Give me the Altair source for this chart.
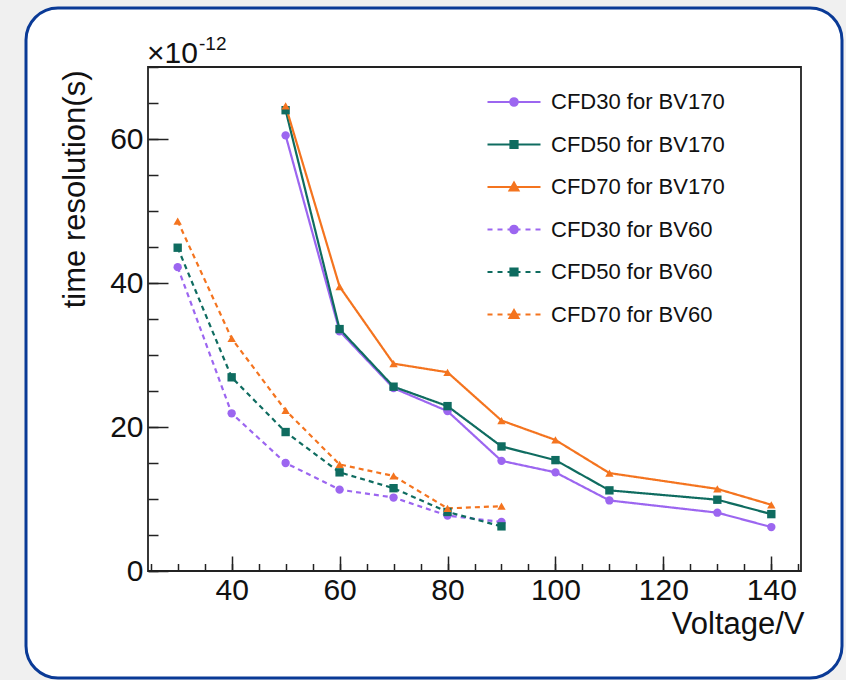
import altair as alt
import pandas as pd

# ---------------- data (time resolution in units of 1e-12 s) ----------------
voltage_bv170 = [50, 60, 70, 80, 90, 100, 110, 130, 140]
cfd30_bv170 = [60.5, 33.3, 25.4, 22.2, 15.3, 13.7, 9.8, 8.1, 6.1]
cfd50_bv170 = [64.0, 33.6, 25.6, 22.9, 17.3, 15.4, 11.2, 9.9, 7.9]
cfd70_bv170 = [64.6, 39.5, 28.8, 27.6, 20.9, 18.2, 13.6, 11.4, 9.2]

voltage_bv60 = [30, 40, 50, 60, 70, 80, 90]
cfd30_bv60 = [42.2, 21.9, 15.0, 11.3, 10.2, 7.7, 6.8]
cfd50_bv60 = [44.9, 26.9, 19.3, 13.7, 11.5, 8.2, 6.2]
cfd70_bv60 = [48.6, 32.3, 22.3, 14.8, 13.2, 8.7, 9.0]

series_names = ["CFD30 for BV170", "CFD50 for BV170", "CFD70 for BV170",
                "CFD30 for BV60", "CFD50 for BV60", "CFD70 for BV60"]
series_colors = ["#9c66f0", "#0f6c60", "#f4741f", "#9c66f0", "#0f6c60", "#f4741f"]
cfd_names = ["CFD30", "CFD50", "CFD70"]
cfd_shapes = ["circle", "square", "triangle-up"]
bv_names = ["BV170", "BV60"]
bv_dashes = [[1, 0], [5, 4]]

x_major = [40, 60, 80, 100, 120, 140]
x_minor = [25, 30, 35, 40, 45, 50, 55, 60, 65, 70, 75, 80, 85, 90, 95, 100,
           105, 110, 115, 120, 125, 130, 135, 140, 145]
y_major = [0, 20, 40, 60]
y_minor = [0, 5, 10, 15, 20, 25, 30, 35, 40, 45, 50, 55, 60, 65, 70]

rows = []
for name, cfd, bv, xs, ys in [
    (series_names[0], "CFD30", "BV170", voltage_bv170, cfd30_bv170),
    (series_names[1], "CFD50", "BV170", voltage_bv170, cfd50_bv170),
    (series_names[2], "CFD70", "BV170", voltage_bv170, cfd70_bv170),
    (series_names[3], "CFD30", "BV60", voltage_bv60, cfd30_bv60),
    (series_names[4], "CFD50", "BV60", voltage_bv60, cfd50_bv60),
    (series_names[5], "CFD70", "BV60", voltage_bv60, cfd70_bv60),
]:
    for xv, yv in zip(xs, ys):
        rows.append({"voltage": xv, "res": yv, "series": name, "cfd": cfd, "bv": bv})
df = pd.DataFrame(rows)
one = pd.DataFrame({"k": [0]})

FONT = "Liberation Sans"
W, H = 653, 504

xscale = alt.Scale(domain=[24.5, 145.5], nice=False, zero=False)
yscale = alt.Scale(domain=[0, 70], nice=False, zero=False)
color_scale = alt.Scale(domain=series_names, range=series_colors)
shape_scale = alt.Scale(domain=cfd_names, range=cfd_shapes)
dash_scale = alt.Scale(domain=bv_names, range=bv_dashes)

# legend symbols: line (solid / dashed) + marker, as custom paths (units of 10 px)
solid = "M-2.65,0L2.65,0"
dashed = "M-2.65,0L-2.15,0M-1.65,0L-1.15,0M-0.65,0L0.65,0M1.15,0L1.65,0M2.15,0L2.65,0"
circ = "M-0.38,0A0.38,0.38,0,1,1,0.38,0A0.38,0.38,0,1,1,-0.38,0Z"
sq = "M-0.36,-0.36L0.36,-0.36L0.36,0.36L-0.36,0.36Z"
tri = "M0,-0.45L0.45,0.35L-0.45,0.35Z"
legend_paths = [solid + circ, solid + sq, solid + tri, dashed + circ, dashed + sq, dashed + tri]
parts = [f"datum.value === '{n}' ? '{p}'" for n, p in zip(series_names, legend_paths)]
shape_expr = " : ".join(parts) + " : 'circle'"
color_expr = "scale('color', datum.value)"

legend = alt.Legend(
    title=None, orient="none", legendX=355, legendY=24, padding=0,
    symbolSize=400, labelFont=FONT, labelFontSize=22, labelColor="#111",
    labelOffset=26, rowPadding=20.5, labelLimit=400,
    symbolType=alt.ExprRef(expr=shape_expr),
    symbolFillColor=alt.ExprRef(expr=color_expr),
    symbolStrokeColor=alt.ExprRef(expr=color_expr),
    symbolStrokeWidth=2, symbolOpacity=1,
)

# background card + frame
card = alt.Chart(one).mark_rect(
    fill="white", stroke="#0a3a96", strokeWidth=3, cornerRadius=32
).encode(x=alt.value(-122), x2=alt.value(694), y=alt.value(-59), y2=alt.value(611))

frame = alt.Chart(one).mark_rect(
    fill="transparent", stroke="#222", strokeWidth=1.8
).encode(x=alt.value(0), x2=alt.value(W), y=alt.value(0), y2=alt.value(H))

exp_main = alt.Chart(one).mark_text(
    text="×10", font=FONT, fontSize=30, align="left", baseline="alphabetic", color="#111"
).encode(x=alt.value(-1), y=alt.value(-4))
exp_sup = alt.Chart(one).mark_text(
    text="-12", font=FONT, fontSize=19, align="left", baseline="alphabetic", color="#111"
).encode(x=alt.value(51), y=alt.value(-17))

# data layers
lines = alt.Chart(df).mark_line(strokeWidth=2.2).encode(
    x=alt.X("voltage:Q", scale=xscale, axis=alt.Axis(
        orient="bottom", values=x_major, ticks=False, domain=False, grid=False,
        labelFont=FONT, labelFontSize=30, labelColor="#111", labelPadding=4,
        labelFlush=False, title="Voltage/V", titleFont=FONT, titleFontSize=31,
        titleFontWeight="normal", titleColor="#111", titleAlign="right",
        titleBaseline="alphabetic", titleX=656, titleY=62, zindex=1)),
    y=alt.Y("res:Q", scale=yscale, axis=alt.Axis(
        orient="left", values=y_major, ticks=False, domain=False, grid=False,
        labelFont=FONT, labelFontSize=30, labelColor="#111", labelPadding=5,
        title="time resolution(s)", titleFont=FONT, titleFontSize=31,
        titleFontWeight="normal", titleColor="#111", titleAngle=270,
        titleAlign="right", titleBaseline="alphabetic", titleX=-64, titleY=3, zindex=1)),
    color=alt.Color("series:N", scale=color_scale, legend=legend),
    strokeDash=alt.StrokeDash("bv:N", scale=dash_scale, legend=None),
    detail="series:N",
)

points = alt.Chart(df).mark_point(filled=True, size=70, opacity=1).encode(
    x=alt.X("voltage:Q", scale=xscale, axis=None),
    y=alt.Y("res:Q", scale=yscale, axis=None),
    color=alt.Color("series:N", scale=color_scale, legend=legend),
    shape=alt.Shape("cfd:N", scale=shape_scale, legend=None),
)

major_ticks = alt.Chart(df).mark_point(opacity=0).encode(
    x=alt.X("voltage:Q", scale=xscale, axis=alt.Axis(
        orient="bottom", values=x_major, labels=False, domain=False, grid=False,
        tickSize=15, offset=-15, tickColor="#222", tickWidth=1.5, title=None, zindex=1)),
    y=alt.Y("res:Q", scale=yscale, axis=alt.Axis(
        orient="left", values=y_major, labels=False, domain=False, grid=False,
        tickSize=20, offset=-20, tickColor="#222", tickWidth=1.5, title=None, zindex=1)),
)

minor_ticks = alt.Chart(df).mark_point(opacity=0).encode(
    x=alt.X("voltage:Q", scale=xscale, axis=alt.Axis(
        orient="bottom", values=x_minor, labels=False, domain=False, grid=False,
        tickSize=7.5, offset=-7.5, tickColor="#222", tickWidth=1.5, title=None, zindex=1)),
    y=alt.Y("res:Q", scale=yscale, axis=alt.Axis(
        orient="left", values=y_minor, labels=False, domain=False, grid=False,
        tickSize=10, offset=-10, tickColor="#222", tickWidth=1.5, title=None, zindex=1)),
)

chart = alt.layer(
    card, frame, exp_main, exp_sup, lines, points, major_ticks, minor_ticks
).resolve_axis(
    x="independent", y="independent"
).properties(
    width=W, height=H,
    autosize=alt.AutoSizeParams(type="none"),
    padding={"left": 148, "top": 67, "right": 45, "bottom": 109},
    background="#f0f0f0",
).configure(font=FONT).configure_view(stroke="transparent")

chart.save("out.html", embed_options={"renderer": "svg", "actions": False})
